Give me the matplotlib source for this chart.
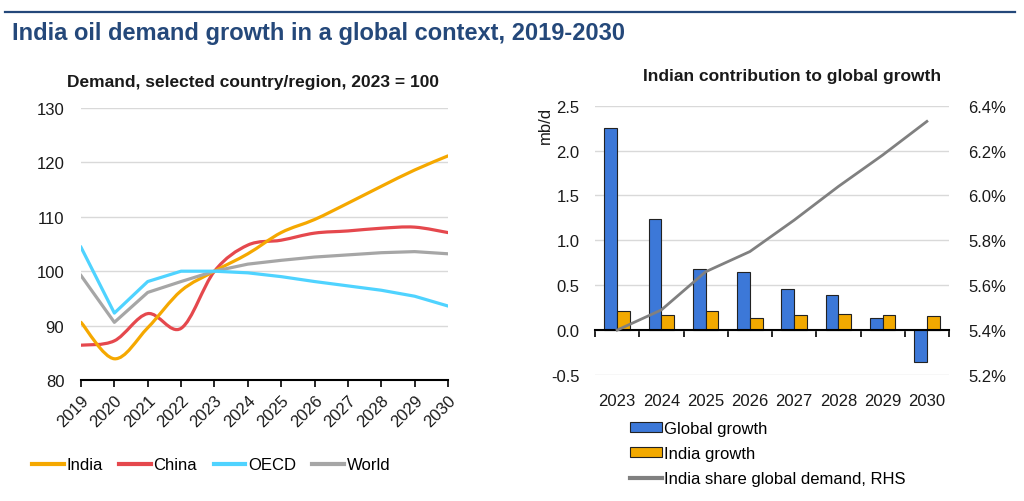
import matplotlib
matplotlib.use("Agg")
import matplotlib.pyplot as plt
import numpy as np
from matplotlib.path import Path
from matplotlib.patches import PathPatch
from matplotlib.lines import Line2D
from matplotlib.patches import Patch

plt.rcParams['font.family'] = ['Liberation Sans', 'DejaVu Sans']

# left panel: demand index, 2023 = 100
years = [2019, 2020, 2021, 2022, 2023, 2024, 2025, 2026, 2027, 2028, 2029, 2030]
india = [90.6, 83.9, 89.6, 96.4, 100.0, 103.2, 107.1, 109.5, 112.5, 115.6, 118.6, 121.2]
china = [86.4, 87.2, 92.2, 89.5, 100.0, 104.8, 105.7, 107.0, 107.4, 107.9, 108.1, 107.1]
oecd = [104.4, 92.3, 98.1, 100.0, 100.0, 99.7, 99.0, 98.1, 97.3, 96.5, 95.4, 93.6]
world = [99.2, 90.6, 96.1, 98.1, 100.0, 101.3, 102.0, 102.6, 103.0, 103.4, 103.6, 103.2]

# right panel: growth (mb/d) and India share (%)
bar_years = ['2023', '2024', '2025', '2026', '2027', '2028', '2029', '2030']
global_growth = [2.25, 1.24, 0.68, 0.65, 0.46, 0.39, 0.14, -0.35]
india_growth = [0.21, 0.17, 0.21, 0.14, 0.17, 0.18, 0.17, 0.16]
india_share = [5.40, 5.49, 5.66, 5.75, 5.89, 6.04, 6.18, 6.33]

C_INDIA = '#f5a800'
C_CHINA = '#e5484d'
C_OECD = '#4fd3ff'
C_WORLD = '#a6a6a6'
C_BLUE = '#3c78d8'
C_ORANGE = '#f2a900'
C_SHARE = '#808080'
C_TITLE = '#24487a'
C_TEXT = '#1a1a1a'
C_GRID = '#d9d9d9'


def smooth_path(xs, ys):
    # bezier curve through the points, like a spreadsheet "smoothed line"
    p = np.column_stack([xs, ys]).astype(float)
    n = len(p)
    verts = [p[0]]
    codes = [Path.MOVETO]
    for i in range(n - 1):
        pm = p[max(i - 1, 0)]
        pn = p[min(i + 2, n - 1)]
        c1 = p[i] + (p[i + 1] - pm) / 6
        c2 = p[i + 1] - (pn - p[i]) / 6
        verts += [c1, c2, p[i + 1]]
        codes += [Path.CURVE4] * 3
    return Path(verts, codes)


fig = plt.figure(figsize=(10.24, 5.02), dpi=100)

# header
fig.add_artist(Line2D([5 / 1024, 1015 / 1024], [1 - 12.5 / 502] * 2,
                      color=C_TITLE, lw=1.6))
fig.text(12 / 1024, 1 - 34 / 502, 'India oil demand growth in a global context, 2019-2030',
         fontsize=17, fontweight='bold', color=C_TITLE, ha='left', va='center')

# ---------- left panel
ax = fig.add_axes([81 / 1024, 1 - 381 / 502, 367 / 1024, 272 / 502])
for name, vals, col in [('World', world, C_WORLD), ('OECD', oecd, C_OECD)]:
    ax.plot(years, vals, color=col, lw=2.3, solid_joinstyle='round')
for vals, col in [(china, C_CHINA), (india, C_INDIA)]:
    ax.add_patch(PathPatch(smooth_path(years, vals), fill=False, edgecolor=col,
                           lw=2.3, capstyle='round'))
ax.set_xlim(years[0], years[-1])
ax.set_ylim(80, 130)
ax.set_yticks(range(80, 131, 10))
ax.set_xticks(years)
ax.set_xticklabels([str(y) for y in years], rotation=45, ha='right',
                   rotation_mode='anchor')
ax.tick_params(axis='y', length=0, pad=12, labelsize=12, labelcolor=C_TEXT)
ax.tick_params(axis='x', length=5, width=1.2, direction='out', pad=4,
               labelsize=12, labelcolor=C_TEXT)
ax.yaxis.grid(True, color=C_GRID, lw=1)
ax.set_axisbelow(True)
for s in ['left', 'right', 'top']:
    ax.spines[s].set_visible(False)
ax.spines['bottom'].set_linewidth(1.5)
fig.text(253 / 1024, 1 - 82 / 502, 'Demand, selected country/region, 2023 = 100',
         fontsize=12.5, fontweight='bold', color=C_TEXT, ha='center', va='center')

left_handles = [Line2D([], [], color=c, lw=3) for c in (C_INDIA, C_CHINA, C_OECD, C_WORLD)]
fig.legend(left_handles, ['India', 'China', 'OECD', 'World'], ncol=4,
           loc='center left', bbox_to_anchor=(32 / 1024, 1 - 466 / 502),
           frameon=False, fontsize=12, handlelength=1.9, handletextpad=0.15,
           columnspacing=1.0, borderpad=0, borderaxespad=0)

# ---------- right panel
axr = fig.add_axes([595 / 1024, 1 - 376 / 502, 354 / 1024, 269.3 / 502])
x = np.arange(len(bar_years))
w = 0.29
axr.bar(x - w / 2, global_growth, w, color=C_BLUE, edgecolor='#222222', lw=0.8)
axr.bar(x + w / 2, india_growth, w, color=C_ORANGE, edgecolor='#222222', lw=0.8)
axr.set_xlim(-0.5, len(bar_years) - 0.5)
axr.set_ylim(-0.5, 2.5)
axr.set_yticks(np.arange(-0.5, 2.51, 0.5))
axr.set_yticklabels(['-0.5', '0.0', '0.5', '1.0', '1.5', '2.0', '2.5'])
axr.set_xticks(x)
axr.set_xticklabels(bar_years)
axr.set_xticks(np.arange(-0.5, len(bar_years)), minor=True)
axr.tick_params(axis='x', which='major', length=0, pad=45, labelsize=12,
                labelcolor=C_TEXT)
axr.tick_params(axis='x', which='minor', length=5, width=1.2, direction='out')
axr.tick_params(axis='y', length=0, pad=11, labelsize=12, labelcolor=C_TEXT)
axr.yaxis.grid(True, color=C_GRID, lw=1)
axr.set_axisbelow(True)
for s in ['left', 'right', 'top']:
    axr.spines[s].set_visible(False)
axr.spines['bottom'].set_position(('data', 0))
axr.spines['bottom'].set_linewidth(1.5)
axr.text(-0.141, 1.0, 'mb/d', transform=axr.transAxes, rotation=90,
         ha='center', va='top', fontsize=12, color=C_TEXT)

ax2 = axr.twinx()
ax2.plot(x, india_share, color=C_SHARE, lw=2)
ax2.set_ylim(5.2, 6.4)
ax2.set_yticks(np.arange(5.2, 6.41, 0.2))
ax2.set_yticklabels([f'{v:.1f}%' for v in np.arange(5.2, 6.41, 0.2)])
ax2.tick_params(axis='y', length=0, pad=14, labelsize=12, labelcolor=C_TEXT)
for s in ax2.spines.values():
    s.set_visible(False)

fig.text(792 / 1024, 1 - 77 / 502, 'Indian contribution to global growth',
         fontsize=12.5, fontweight='bold', color=C_TEXT, ha='center', va='center')

right_handles = [Patch(facecolor=C_BLUE, edgecolor='#222222', lw=0.8),
                 Patch(facecolor=C_ORANGE, edgecolor='#222222', lw=0.8),
                 Line2D([], [], color=C_SHARE, lw=3)]
fig.legend(right_handles, ['Global growth', 'India growth', 'India share global demand, RHS'],
           loc='upper left', bbox_to_anchor=(630 / 1024, 1 - 422 / 502),
           frameon=False, fontsize=12, handlelength=1.9, handleheight=0.5,
           handletextpad=0.15, labelspacing=0.6, borderpad=0, borderaxespad=0)

fig.savefig('out.png', dpi=100)
